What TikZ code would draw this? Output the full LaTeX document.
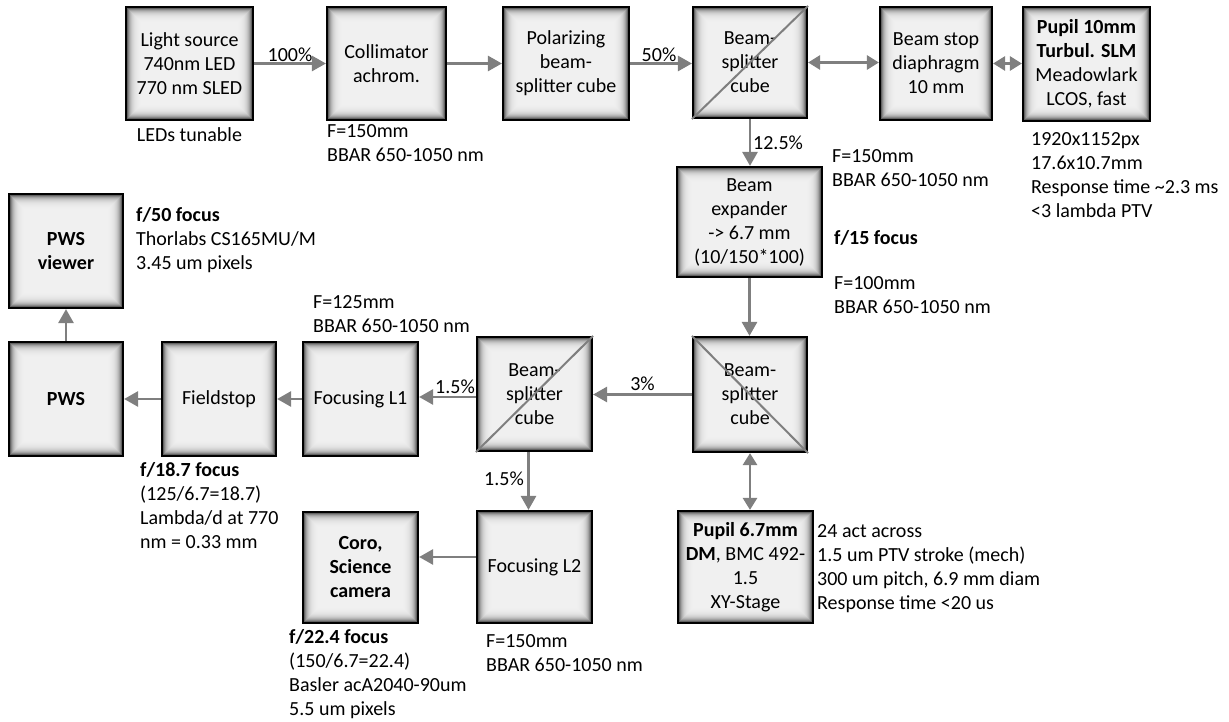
\documentclass[tikz,border=0pt]{standalone}
\usepackage{fontspec}
\setmainfont{Carlito}
\usepackage{tikz}
\usetikzlibrary{arrows.meta,calc}
\definecolor{freccia}{HTML}{7F7F7F}

\tikzset{
  blocco/.style={draw=black, line width=2.2pt, inner sep=0pt, align=center,
    minimum width=115pt, minimum height=113pt, font=\fontsize{20}{24}\selectfont,
    path picture={
      \foreach \d in {0,...,16}
      {
        \pgfmathsetmacro\tono{5+75*exp(-\d/3.5)}
        \fill[black!\tono]
        ([shift={(\d pt,\d pt)}]path picture bounding box.south west) rectangle
        ([shift={(-\d pt,-\d pt)}]path picture bounding box.north east);
      }
    }},
  raggio/.style={draw=freccia, line width=2.8pt, -{Triangle[length=14pt,width=15pt]}},
  doppio/.style={raggio, {Triangle[length=12pt,width=14pt]}-{Triangle[length=12pt,width=14pt]}},
  diag/.style={draw=freccia, line width=2pt},
  nota/.style={anchor=north west, inner sep=0pt, align=left, font=\fontsize{20}{24}\selectfont},
  perc/.style={inner sep=1pt, font=\fontsize{20}{24}\selectfont}
}

\begin{document}
\begin{tikzpicture}[x=1pt,y=-1pt]

\useasboundingbox (0,0) rectangle (1229,722);

%========================
% Riga superiore
%========================

\node[blocco, minimum width=127pt] (src) at (189.5,63.5) {Light source\\740nm LED\\770 nm SLED};
\node[blocco, minimum width=119pt] (coll) at (386.5,63.5) {Collimator\\achrom.};
\node[blocco, minimum width=126pt] (pol) at (566,63.5) {Polarizing\\beam-\\splitter cube};
\node[blocco, minimum width=114pt, minimum height=111pt] (bs1) at (750,62.5) {Beam-\\splitter\\cube};
\node[blocco, minimum width=112pt] (stop) at (936,63.5) {Beam stop\\diaphragm\\10 mm};
\node[blocco, minimum width=127pt, minimum height=114pt] (slm) at (1086.5,64)
  {\textbf{Pupil 10mm}\\\textbf{Turbul. SLM}\\Meadowlark\\LCOS, fast};

% diagonale del cubo
\draw[diag] (bs1.south west) -- (bs1.north east);

% frecce
\draw[raggio] (src.east) -- (src.east -| coll.west);
\draw[raggio] (coll.east) -- (coll.east -| pol.west);
\draw[raggio] (pol.east) -- (pol.east -| bs1.west);
\draw[doppio] (bs1.east) -- (bs1.east -| stop.west);
\draw[doppio] (stop.east) -- (stop.east -| slm.west);

\node[perc, above] (p100) at (290,63) {100\%};
\node[perc, above] (p50) at (659,63) {50\%};

% note
\node[nota, anchor=north] (nsrc) at (189.5,127) {LEDs tunable};
\node[nota] (ncoll) at (327,124) {F=150mm\\BBAR 650-1050 nm};
\node[nota] (nslm) at (1031,132) {1920x1152px\\17.6x10.7mm\\Response time \textasciitilde2.3 ms\\<3 lambda PTV};

%========================
% Colonna centrale
%========================

\node[blocco, minimum width=145pt, minimum height=110pt] (exp) at (749.5,222)
  {Beam\\expander\\-> 6.7 mm\\(10/150*100)};
\node[blocco, minimum width=114pt, minimum height=115pt] (bs2) at (750,394.5) {Beam-\\splitter\\cube};
\draw[diag] (bs2.north west) -- (bs2.south east);

\draw[raggio] (bs1.south) -- (bs1.south |- exp.north);
\draw[raggio] (exp.south) -- (exp.south |- bs2.north);

\node[perc, right] (p125) at (752,143) {12.5\%};
\node[nota] (nexp) at (832,149) {F=150mm\\BBAR 650-1050 nm};
\node[nota] (fexp) at (834,230) {\textbf{f/15 focus}};
\node[nota] (nexp2) at (834,276) {F=100mm\\BBAR 650-1050 nm};

% specchio deformabile
\node[blocco, minimum width=135pt, minimum height=112pt] (dm) at (745.5,567)
  {\textbf{Pupil 6.7mm}\\\textbf{DM}, BMC 492-\\1.5\\XY-Stage};
\draw[doppio] (bs2.south) -- (bs2.south |- dm.north);
\node[nota] (ndm) at (817,524) {24 act across\\1.5 um PTV stroke (mech)\\300 um pitch, 6.9 mm diam\\Response time <20 us};

%========================
% Riga inferiore
%========================

\node[blocco, minimum height=114pt] (bs3) at (534.5,394) {Beam-\\splitter\\cube};
\draw[diag] (bs3.south west) -- (bs3.north east);
\node[blocco, minimum height=114pt] (lone) at (360.5,399) {Focusing L1};
\node[blocco, minimum width=114pt, minimum height=114pt] (fstop) at (219,399) {Fieldstop};
\node[blocco, minimum width=114pt, minimum height=114pt] (pws) at (66,399) {\textbf{PWS}};
\node[blocco, minimum width=114pt, minimum height=114pt] (view) at (66,251) {\textbf{PWS}\\\textbf{viewer}};

\draw[raggio] (bs2.west) -- (bs2.west -| bs3.east);
\draw[raggio] ([yshift=-3pt]bs3.west) -- ([yshift=-3pt]bs3.west -| lone.east);
\draw[raggio] (lone.west) -- (lone.west -| fstop.east);
\draw[raggio] (fstop.west) -- (fstop.west -| pws.east);
\draw[raggio] (pws.north) -- (pws.north |- view.south);

\node[perc, above] (p3) at (642.5,392) {3\%};
\node[perc, above] (p15a) at (455,395) {1.5\%};

\node[nota] (nview) at (136,207) {\textbf{f/50 focus}\\Thorlabs CS165MU/M\\3.45 um pixels};
\node[nota] (nlone) at (313,295) {F=125mm\\BBAR 650-1050 nm};
\node[nota] (nfstop) at (140,462) {\textbf{f/18.7 focus}\\(125/6.7=18.7)\\Lambda/d at 770\\nm = 0.33 mm};

% ramo scienza
\node[blocco, minimum height=112pt] (ltwo) at (534.5,567) {Focusing L2};
\node[blocco, minimum height=111pt] (coro) at (360.5,567.5) {\textbf{Coro,}\\\textbf{Science}\\\textbf{camera}};

\draw[raggio] ([xshift=-6pt]bs3.south) -- ([xshift=-6pt]bs3.south |- ltwo.north);
\draw[raggio] ([yshift=10pt]ltwo.west) -- ([yshift=10pt]ltwo.west -| coro.east);

\node[perc, left] (p15b) at (525,479) {1.5\%};
\node[nota] (nltwo) at (486,634) {F=150mm\\BBAR 650-1050 nm};
\node[nota] (ncoro) at (289,629) {\textbf{f/22.4 focus}\\(150/6.7=22.4)\\Basler acA2040-90um\\5.5 um pixels};

\end{tikzpicture}
\end{document}
